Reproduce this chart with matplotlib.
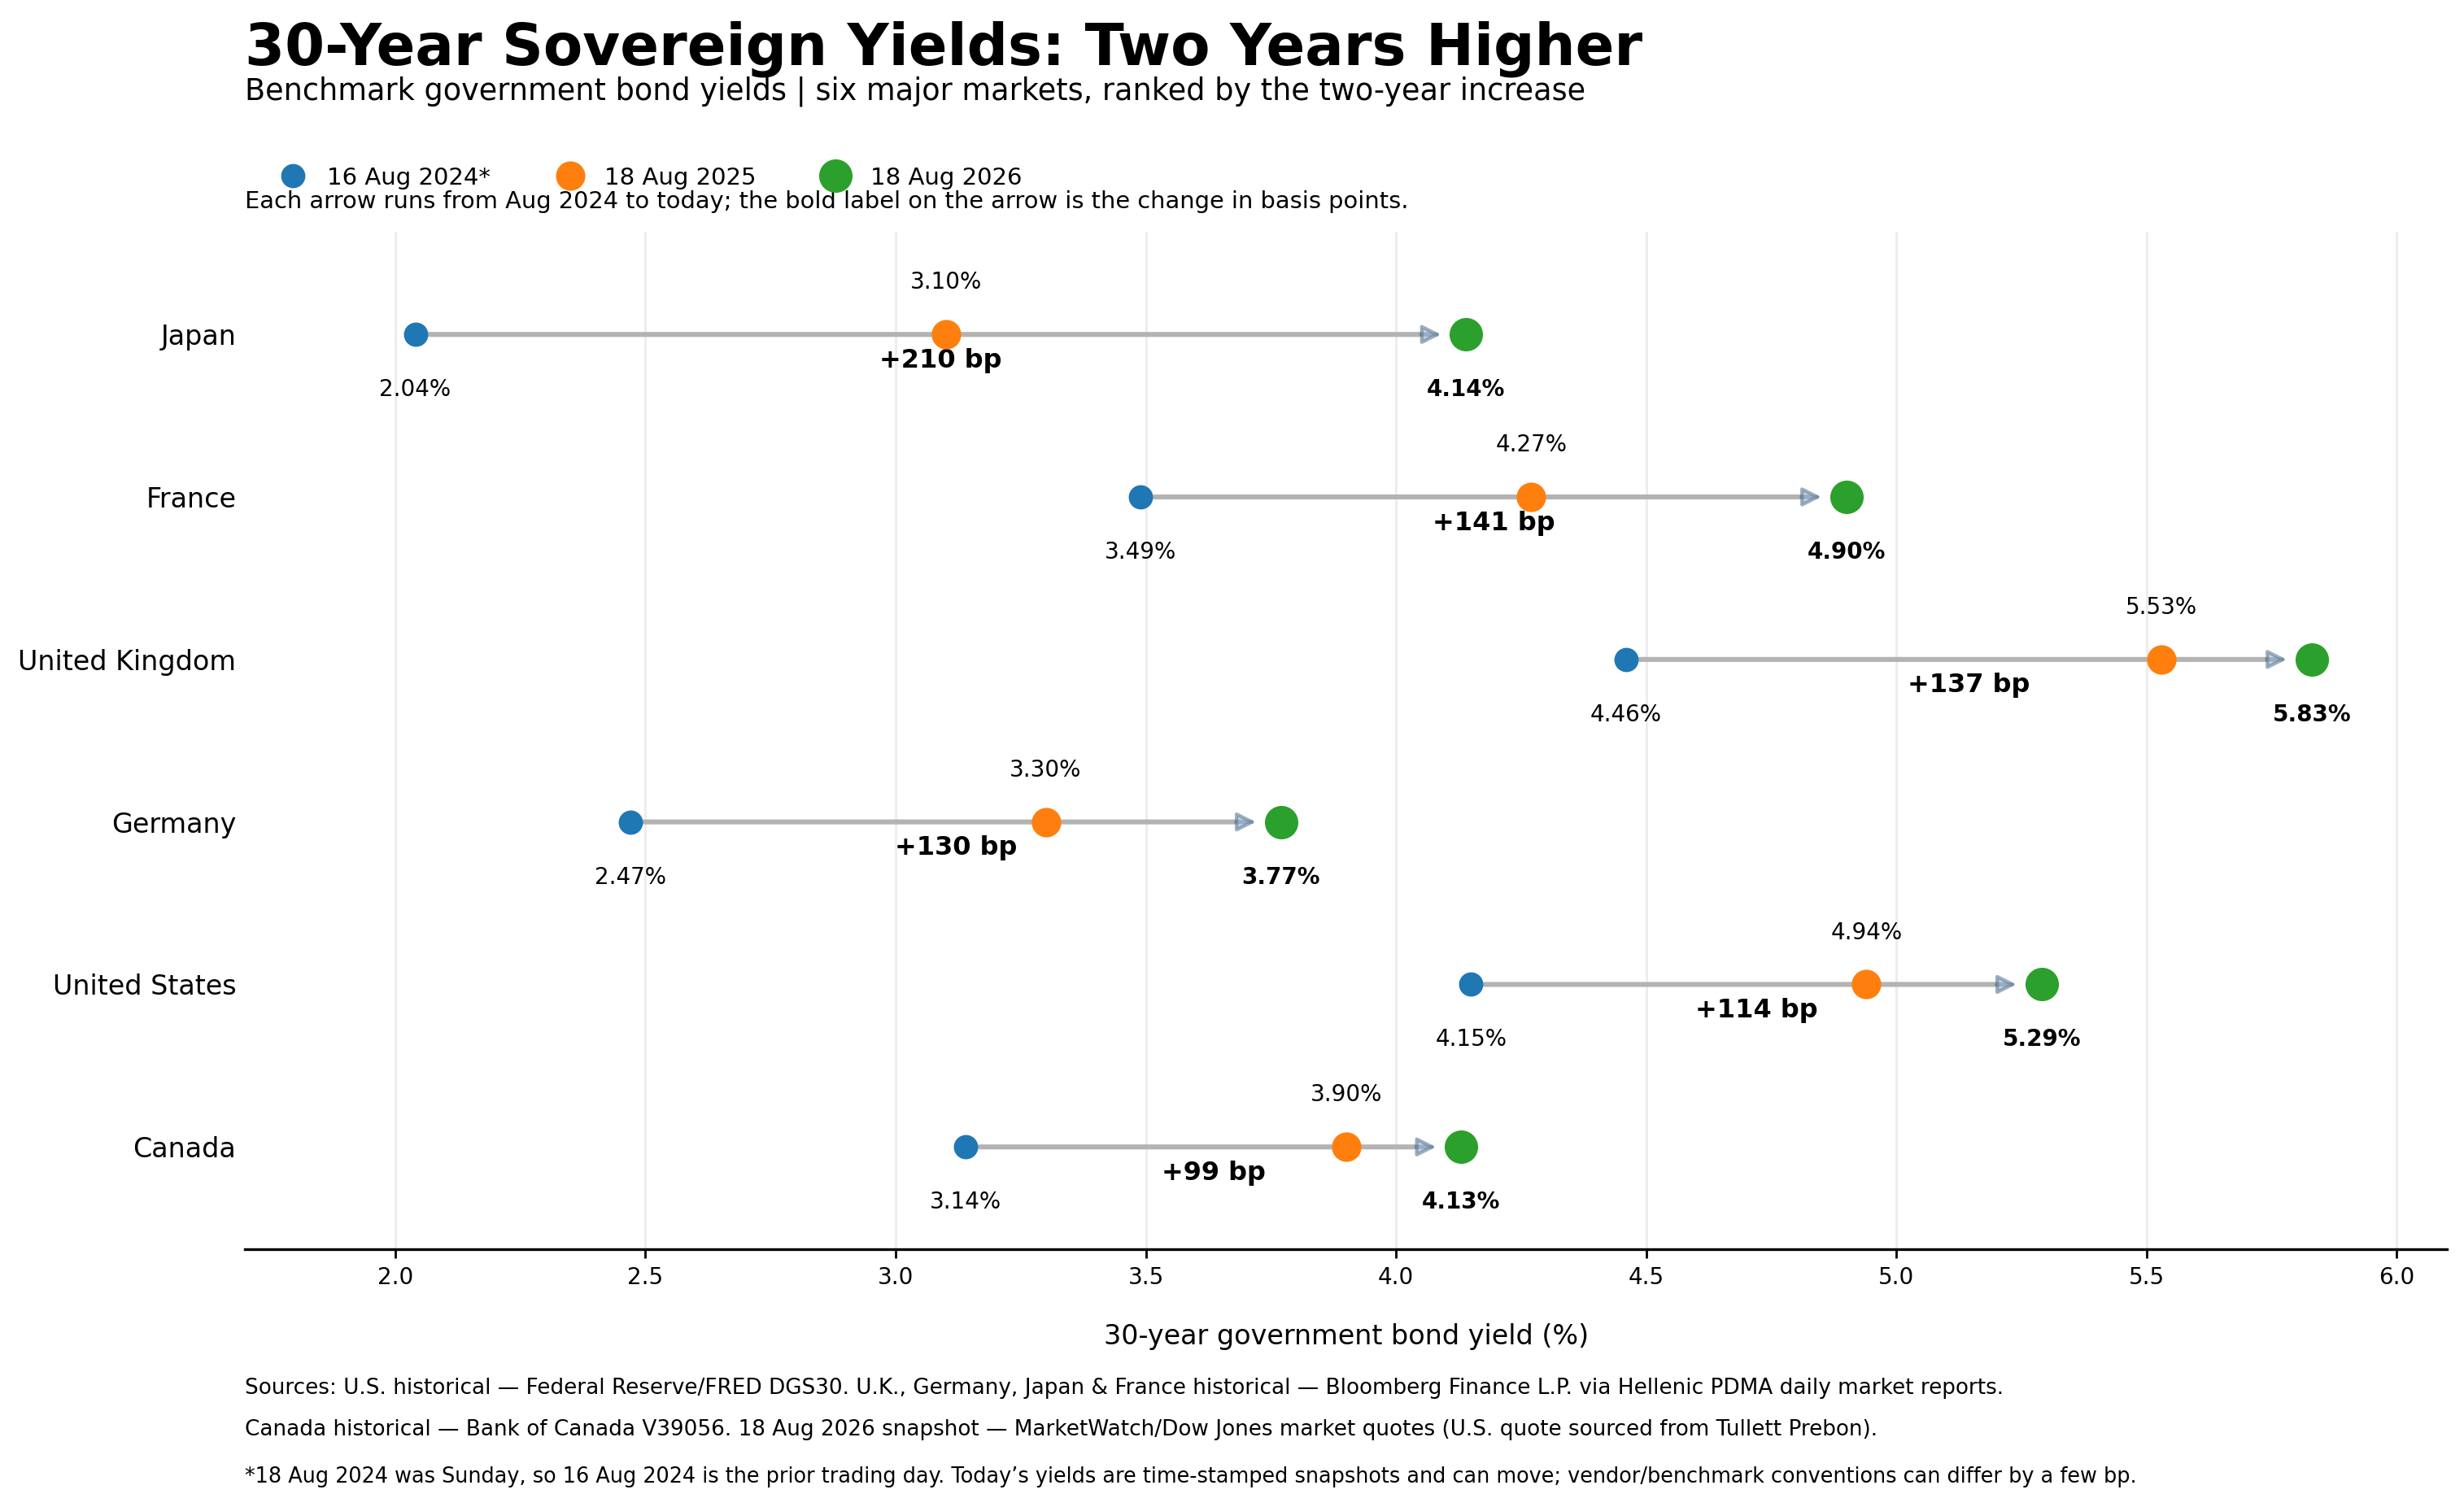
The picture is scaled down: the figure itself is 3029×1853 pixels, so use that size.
import matplotlib
matplotlib.use('Agg')
import matplotlib.pyplot as plt
from matplotlib.lines import Line2D

countries = ['Japan', 'France', 'United Kingdom', 'Germany', 'United States', 'Canada']
y2024 = [2.04, 3.49, 4.46, 2.47, 4.15, 3.14]
y2025 = [3.10, 4.27, 5.53, 3.30, 4.94, 3.90]
y2026 = [4.14, 4.90, 5.83, 3.77, 5.29, 4.13]
change_bp = [210, 141, 137, 130, 114, 99]
series_labels = ['16 Aug 2024*', '18 Aug 2025', '18 Aug 2026']
xticks = [2.0, 2.5, 3.0, 3.5, 4.0, 4.5, 5.0, 5.5, 6.0]

c_blue, c_orange, c_green = '#1f77b4', '#ff7f0e', '#2ca02c'

fig = plt.figure(figsize=(15.145, 9.265), dpi=200)
ax = fig.add_axes([0.0995, 0.171, 0.8935, 0.675])

rows = list(range(len(countries)))
for i in rows:
    # gray shaft
    ax.annotate('', xy=(y2026[i], i), xytext=(y2024[i], i),
                arrowprops=dict(arrowstyle='-', color='#b3b3b3', lw=2.2,
                                shrinkA=6, shrinkB=16),
                zorder=2)
    # slate arrow head
    ax.annotate('', xy=(y2026[i], i), xytext=(y2026[i] - 0.09, i),
                arrowprops=dict(arrowstyle='-|>', ec='#5f7a94', fc='#a9c2dc', lw=1.6,
                                alpha=0.6, shrinkA=0, shrinkB=11, mutation_scale=17),
                zorder=2)
    ax.text(y2024[i], i + 0.34, '%.2f%%' % y2024[i], ha='center', va='center', fontsize=10)
    ax.text(y2025[i], i - 0.32, '%.2f%%' % y2025[i], ha='center', va='center', fontsize=10)
    ax.text(y2026[i], i + 0.34, '%.2f%%' % y2026[i], ha='center', va='center', fontsize=10,
            fontweight='bold')
    ax.text((y2024[i] + y2026[i]) / 2, i + 0.16, '+%d bp' % change_bp[i], ha='center',
            va='center', fontsize=11.5, fontweight='bold')

ax.scatter(y2024, rows, s=95, color=c_blue, zorder=3)
ax.scatter(y2025, rows, s=145, color=c_orange, zorder=3)
ax.scatter(y2026, rows, s=190, color=c_green, zorder=3)

ax.set_xlim(1.7, 6.1)
ax.set_ylim(5.63, -0.63)
ax.set_yticks(rows)
ax.set_yticklabels(countries, fontsize=12)
ax.tick_params(axis='y', length=0, pad=4)
ax.set_xticks(xticks)
ax.set_xticklabels(['%.1f' % t for t in xticks], fontsize=10)
ax.tick_params(axis='x', length=4, width=1)
ax.grid(axis='x', color='#ececec', lw=1)
ax.set_axisbelow(True)
for s in ['top', 'right', 'left']:
    ax.spines[s].set_visible(False)
ax.spines['bottom'].set_linewidth(1.2)
ax.set_xlabel('30-year government bond yield (%)', fontsize=12, labelpad=15)

handles = [Line2D([], [], marker='o', ls='', color=c_blue, markersize=9.7),
           Line2D([], [], marker='o', ls='', color=c_orange, markersize=12),
           Line2D([], [], marker='o', ls='', color=c_green, markersize=13.8)]
fig.legend(handles, series_labels, loc='center left', bbox_to_anchor=(0.1005, 0.882),
           ncol=3, frameon=False, fontsize=10.5, handletextpad=0.45, columnspacing=2.35)

fig.text(0.0995, 0.957, '30-Year Sovereign Yields: Two Years Higher', fontsize=25.4,
         fontweight='bold', va='baseline')
fig.text(0.0995, 0.934, 'Benchmark government bond yields | six major markets, ranked by the two-year increase',
         fontsize=13.2, va='baseline')
fig.text(0.0995, 0.862, 'Each arrow runs from Aug 2024 to today; the bold label on the arrow is the change in basis points.',
         fontsize=10.4, va='baseline')

notes = ['Sources: U.S. historical \u2014 Federal Reserve/FRED DGS30. U.K., Germany, Japan & France historical \u2014 Bloomberg Finance L.P. via Hellenic PDMA daily market reports.',
         'Canada historical \u2014 Bank of Canada V39056. 18 Aug 2026 snapshot \u2014 MarketWatch/Dow Jones market quotes (U.S. quote sourced from Tullett Prebon).',
         '*18 Aug 2024 was Sunday, so 16 Aug 2024 is the prior trading day. Today\u2019s yields are time-stamped snapshots and can move; vendor/benchmark conventions can differ by a few bp.']
for t, yy, fs in zip(notes, [0.079, 0.051, 0.020], [9.45, 9.45, 9.2]):
    fig.text(0.0995, yy, t, fontsize=fs, va='center')

fig.savefig('out.png', dpi=200)
